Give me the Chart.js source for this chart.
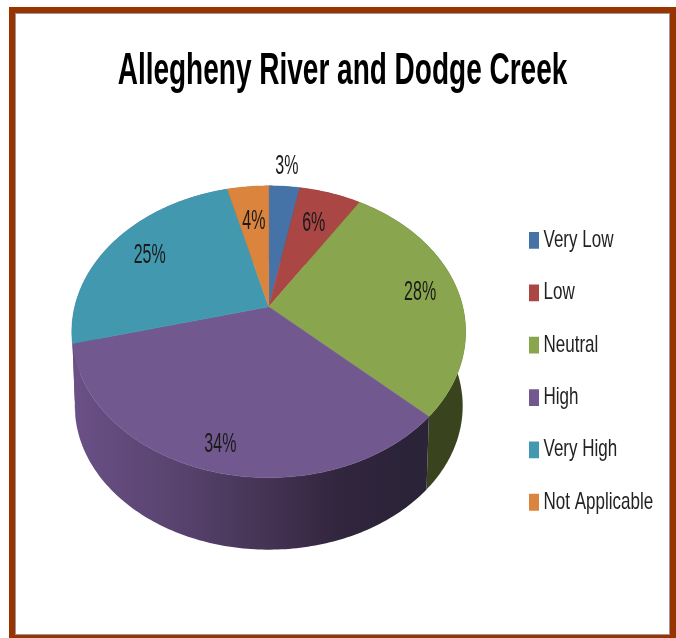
<!DOCTYPE html>
<html>
<head>
<meta charset="utf-8">
<title>Allegheny River and Dodge Creek</title>
<script src="https://cdn.jsdelivr.net/npm/chart.js@4/dist/chart.umd.min.js"></script>
<style>
    html, body { margin: 0; padding: 0; background: #fff; overflow: hidden; }
    #frame {
        position: absolute; left: 9px; top: 7px; width: 655px; height: 622px;
        border: 6px solid #993300; box-shadow: inset 0 0 0 1px #999;
    }
    #chart { position: absolute; left: 0; top: 0; }
</style>
</head>
<body>
<div id="frame"></div>
<canvas id="chart" width="676" height="638"></canvas>
<script>
const titleText = 'Allegheny River and Dodge Creek';
const categories = ['Very Low', 'Low', 'Neutral', 'High', 'Very High', 'Not Applicable'];
const percents = [3, 6, 28, 34, 25, 4];
const colors = ['#4572a7', '#aa4643', '#89a54e', '#71588f', '#4198af', '#db843d'];
const wallColors = ['#2a4465', '#662a28', '#39441f', '#71588f', '#6a5086', '#834f25'];

const fontFamily = '"Liberation Sans Narrow", "Liberation Sans", sans-serif';

// Perspective of the tilted disc: the near edge is bigger than the far edge
const tilt = { k: -0.171, squash: 0.73, depth: 74.6, bottomScale: 0.985 };

function project(arc, r, angle, floor) {
    const scale = floor ? tilt.bottomScale : 1;
    const u = r * Math.cos(angle);
    const v = r * Math.sin(angle);
    const w = 1 + tilt.k * v;
    return [
        arc.x + arc.outerRadius * scale * u / w,
        arc.y + (floor ? tilt.depth : 0) + arc.outerRadius * tilt.squash * scale * v / w
    ];
}

function rimPoints(arc, floor) {
    const pts = [];
    const steps = Math.max(4, Math.ceil((arc.endAngle - arc.startAngle) * 60));
    for (let i = 0; i <= steps; i++) {
        const a = arc.startAngle + (arc.endAngle - arc.startAngle) * i / steps;
        pts.push(project(arc, 1, a, floor));
    }
    return pts;
}

function tracePath(ctx, pts) {
    ctx.beginPath();
    pts.forEach((p, i) => i ? ctx.lineTo(p[0], p[1]) : ctx.moveTo(p[0], p[1]));
    ctx.closePath();
}

// Title and legend text in the reference is stretched upwards
function stretchBox(ctx, box, factor) {
    if (box._stretched) return;
    box._stretched = true;
    const draw = box.draw;
    box.draw = function (area) {
        const anchor = box.top;
        ctx.save();
        ctx.translate(0, anchor);
        ctx.scale(1, factor);
        ctx.translate(0, -anchor);
        draw.call(box, area);
        ctx.restore();
    };
}

const tiltedPie = {
    id: 'tiltedPie',
    afterLayout(chart, args, opts) {
        chart.legend.left = opts.legendX;
        chart.legend.top = opts.legendY;
        chart.titleBlock.top = opts.titleY;
        chart.titleBlock.left = 9;
        chart.titleBlock.right = 676;
        stretchBox(chart.ctx, chart.titleBlock, opts.titleStretch);
        stretchBox(chart.ctx, chart.legend, opts.legendStretch);
    },
    beforeDatasetsDraw(chart, args, opts) {
        const ctx = chart.ctx;
        const arcs = chart.getDatasetMeta(0).data;

        // Side wall first, the top face covers whatever is behind it
        arcs.forEach((arc, i) => {
            const pts = rimPoints(arc, false).concat(rimPoints(arc, true).reverse());
            tracePath(ctx, pts);
            if (i === 3) {
                const grad = ctx.createLinearGradient(arc.x - arc.outerRadius, 0, arc.x + 130, 0);
                grad.addColorStop(0, '#6a5086');
                grad.addColorStop(0.3, '#594470');
                grad.addColorStop(0.6, '#443353');
                grad.addColorStop(0.8, '#33263f');
                grad.addColorStop(1, '#2b2338');
                ctx.fillStyle = grad;
            } else {
                ctx.fillStyle = wallColors[i];
            }
            ctx.fill();
        });

        // Top face
        arcs.forEach((arc, i) => {
            const pts = [[arc.x, arc.y]].concat(rimPoints(arc, false));
            tracePath(ctx, pts);
            ctx.fillStyle = colors[i];
            ctx.fill();
            ctx.strokeStyle = colors[i];
            ctx.lineWidth = 0.5;
            ctx.stroke();
        });

        // Percent labels
        ctx.fillStyle = '#1a1a1a';
        ctx.font = opts.labelSize + 'px ' + fontFamily;
        ctx.textAlign = 'center';
        ctx.textBaseline = 'middle';
        arcs.forEach((arc, i) => {
            const mid = (arc.startAngle + arc.endAngle) / 2;
            const p = project(arc, opts.labelRadius[i], mid, false);
            ctx.save();
            ctx.translate(p[0], p[1]);
            ctx.scale(1, opts.labelStretch);
            ctx.fillText(percents[i] + '%', 0, 0);
            ctx.restore();
        });

        return false;
    }
};

new Chart(document.getElementById('chart'), {
    type: 'pie',
    data: {
        labels: categories,
        datasets: [{ data: percents, backgroundColor: colors, borderWidth: 0 }]
    },
    plugins: [tiltedPie],
    options: {
        responsive: false,
        animation: false,
        radius: 194,
        layout: { padding: { left: 12, top: 0, bottom: 70, right: 0 } },
        plugins: {
            tooltip: { enabled: false },
            title: {
                display: true,
                text: titleText,
                color: '#000',
                font: { family: fontFamily, size: 28, weight: 'bold' },
                padding: { top: 0, bottom: 12 }
            },
            legend: {
                position: 'right',
                align: 'start',
                labels: {
                    boxWidth: 2,
                    boxHeight: 4,
                    padding: 20.4,
                    color: '#222',
                    font: { family: fontFamily, size: 17 },
                    // thick outline keeps the marker size while the text sits close to it
                    generateLabels(chart) {
                        return categories.map((name, i) => ({
                            text: name,
                            fillStyle: colors[i],
                            strokeStyle: colors[i],
                            lineWidth: 8,
                            fontColor: '#222',
                            index: i
                        }));
                    }
                }
            },
            tiltedPie: {
                legendX: 512.6,
                legendY: 200,
                legendStretch: 1.4,
                titleY: 45,
                titleStretch: 1.6,
                labelSize: 16,
                labelStretch: 1.7,
                labelRadius: [1.2, 0.7, 0.8, 0.86, 0.76, 0.68]
            }
        }
    }
});
</script>
</body>
</html>
